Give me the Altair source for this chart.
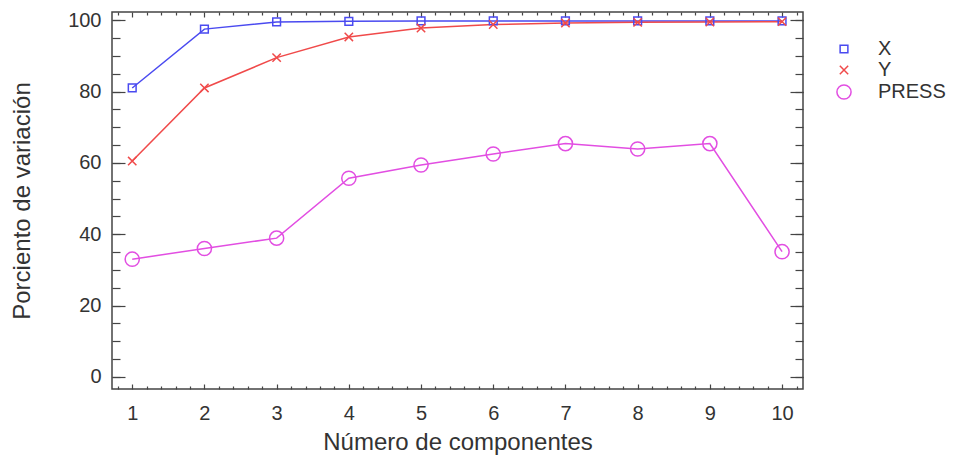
import altair as alt
import pandas as pd

# ---- data ----
components = [1, 2, 3, 4, 5, 6, 7, 8, 9, 10]
x_values = [81.0, 97.5, 99.5, 99.7, 99.8, 99.8, 99.8, 99.8, 99.8, 99.8]
y_values = [60.5, 81.0, 89.5, 95.3, 97.8, 98.8, 99.2, 99.4, 99.5, 99.6]
press_values = [33.0, 36.0, 38.9, 55.7, 59.4, 62.5, 65.4, 63.9, 65.4, 35.1]

series_names = ["X", "Y", "PRESS"]
series_colors = ["#4a4af0", "#f04a4a", "#e24ee2"]
series_shapes = ["square", "M-1,-1L1,1M-1,1L1,-1", "circle"]
series_sizes = [60, 70, 200]

x_major = [1, 2, 3, 4, 5, 6, 7, 8, 9, 10]
x_minor = [round(0.8 + 0.2 * i, 1) for i in range(48) if abs((0.8 + 0.2 * i) - round(0.8 + 0.2 * i)) > 1e-6]
y_labels = [0, 20, 40, 60, 80, 100]
y_minor = [0, 5, 10, 15, 20, 25, 30, 35, 40, 45, 50, 55, 60, 65, 70, 75, 80, 85, 90, 95, 100]

rows = []
for name, vals in zip(series_names, [x_values, y_values, press_values]):
    for c, v in zip(components, vals):
        rows.append({"comp": c, "value": v, "series": name})
df = pd.DataFrame(rows)

FONT = "Liberation Sans"
TXT = "#333333"
LBL = 20
TTL = 24
xs = alt.Scale(domain=[0.72, 10.29], nice=False, zero=False)
ys = alt.Scale(domain=[-3.4, 102.3], nice=False, zero=False)

def tick_axis(orient, values, size):
    return alt.Axis(orient=orient, values=values, labels=False, domain=False,
                    grid=False, ticks=True, tickSize=size, offset=-size,
                    tickColor="#444444", tickWidth=1.2, title=None)

label_x_axis = alt.Axis(
    orient="bottom", values=x_major, ticks=False, domain=False, grid=False,
    labelFontSize=LBL, labelFont=FONT, labelColor=TXT, labelPadding=14,
    title="Número de componentes", titleFontSize=TTL, titleFont=FONT,
    titleColor=TXT, titleFontWeight="normal", titlePadding=7)
label_y_axis = alt.Axis(
    orient="left", values=y_labels, ticks=False, domain=False, grid=False,
    labelFontSize=LBL, labelFont=FONT, labelColor=TXT, labelPadding=11,
    title="Porciento de variación", titleFontSize=TTL, titleFont=FONT,
    titleColor=TXT, titleFontWeight="normal", titlePadding=33)

line_layers = []
for i, (name, col) in enumerate(zip(series_names, series_colors)):
    line_layers.append(
        alt.Chart(df).transform_filter(alt.datum.series == name).mark_line(strokeWidth=1.5).encode(
            x=alt.X("comp:Q", scale=xs, axis=label_x_axis if i == 0 else tick_axis("bottom", x_major, 5)),
            y=alt.Y("value:Q", scale=ys, axis=label_y_axis if i == 0 else tick_axis("left", y_labels, 13)),
            color=alt.value(col),
        )
    )
line_layers[2] = line_layers[2].encode(
    x=alt.X("comp:Q", scale=xs, axis=tick_axis("top", x_major, 5)),
    y=alt.Y("value:Q", scale=ys, axis=tick_axis("right", y_labels, 13)),
)

legend = alt.Legend(title=None, orient="none", legendX=722, legendY=27,
                    labelFontSize=LBL, labelFont=FONT, labelColor=TXT,
                    labelOffset=24, rowPadding=1, padding=0, symbolStrokeWidth=1.5)

points = alt.Chart(df).mark_point(filled=False, strokeWidth=1.5, opacity=1).encode(
    x=alt.X("comp:Q", scale=xs, axis=tick_axis("bottom", x_minor, 3)),
    y=alt.Y("value:Q", scale=ys, axis=tick_axis("left", y_minor, 8)),
    color=alt.Color("series:N", scale=alt.Scale(domain=series_names, range=series_colors), legend=legend),
    shape=alt.Shape("series:N", scale=alt.Scale(domain=series_names, range=series_shapes), legend=legend),
    size=alt.Size("series:N", scale=alt.Scale(type="ordinal", domain=series_names, range=series_sizes), legend=legend),
)

ghost = alt.Chart(df).mark_point(opacity=0).encode(
    x=alt.X("comp:Q", scale=xs, axis=tick_axis("top", x_minor, 3)),
    y=alt.Y("value:Q", scale=ys, axis=tick_axis("right", y_minor, 8)),
)

chart = alt.layer(*line_layers, points, ghost).resolve_axis(
    x="independent", y="independent"
).properties(
    width=691, height=377,
    autosize=alt.AutoSizeParams(type="none"),
    padding={"left": 104, "top": 4, "right": 150, "bottom": 68},
).configure_view(stroke="#444444", strokeWidth=1.5)

chart.save("out.html", embed_options={"renderer": "svg", "actions": False})
